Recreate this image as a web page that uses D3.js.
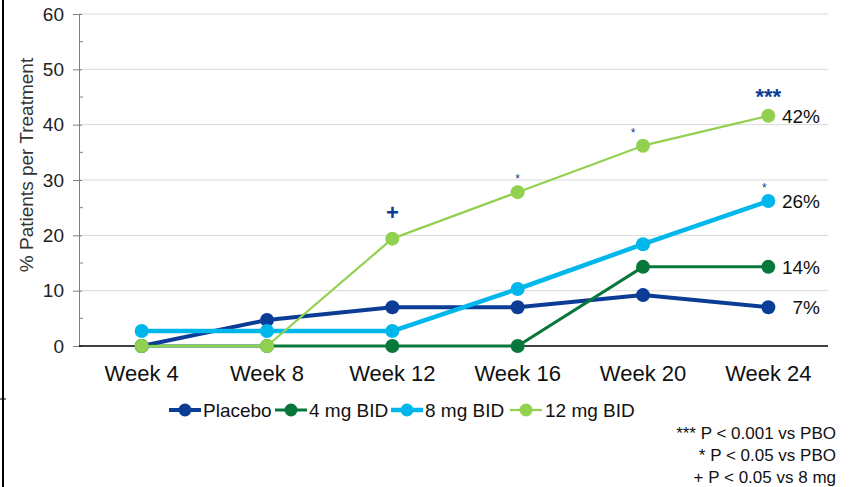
<!DOCTYPE html>
<html><head><meta charset="utf-8">
<script src="https://cdn.jsdelivr.net/npm/d3@7"></script>
<style>body{margin:0;background:#fff}svg{display:block;font-family:"Liberation Sans",Arial,sans-serif}</style>
</head><body><svg id="c" width="850" height="487"></svg>
<script>
const weeks = ["Week 4","Week 8","Week 12","Week 16","Week 20","Week 24"];
const seriesNames = ["Placebo","4 mg BID","8 mg BID","12 mg BID"];
const placebo = [0, 4.7, 7.0, 7.0, 9.2, 7.0];
const mg4 = [0, 0, 0, 0, 14.3, 14.3];
const mg8 = [2.7, 2.7, 2.7, 10.3, 18.4, 26.2];
const mg12 = [0, 0, 19.4, 27.8, 36.2, 41.6];
const endLabels = ["7%","14%","26%","42%"];
const yTicks = [0,10,20,30,40,50,60];
const footnotes = ["*** P < 0.001 vs PBO","* P < 0.05 vs PBO","+ P < 0.05 vs 8 mg"];
// significance marks: [series index, week index, symbol]
const sigMarks = [[3,2,"+"],[3,3,"*"],[3,4,"*"],[2,5,"*"],[3,5,"***"]];

const colors = ["#0B3C96","#08783A","#00B7EC","#92D050"];
const widths = [4,3,4.5,2.2];
const radii = [7,7,7,7];
const allSeries = [placebo, mg4, mg8, mg12];

const svg = d3.select("#c");
const x = d3.scaleBand().domain(weeks).range([79,831]);
const y = d3.scaleLinear().domain([0,60]).range([346,14]);
const cx = w => x(w) + x.bandwidth()/2;

// left border line
svg.append("line").attr("x1",3).attr("x2",3).attr("y1",0).attr("y2",487).attr("stroke","#000").attr("stroke-width",2);
svg.append("line").attr("x1",0).attr("x2",6).attr("y1",399).attr("y2",399).attr("stroke","#000").attr("stroke-width",1);

// gridlines
svg.append("g").selectAll("line").data(yTicks.filter(d=>d>0)).join("line")
  .attr("x1",79).attr("x2",828).attr("y1",d=>y(d)).attr("y2",d=>y(d))
  .attr("stroke","#d9d9d9").attr("stroke-width",1);

// y axis
const yAxis = d3.axisLeft(y).tickValues(yTicks).tickSize(6).tickPadding(9);
const gy = svg.append("g").attr("transform","translate(79,0)").call(yAxis);
gy.select(".domain").attr("stroke","#808080");
gy.selectAll(".tick line").attr("stroke","#808080").attr("x2",-6).attr("x1",3);
gy.selectAll("text").attr("font-size",19).attr("fill","#222");
// minor ticks
svg.append("g").selectAll("line").data(d3.range(5,60,10)).join("line")
  .attr("x1",79).attr("x2",83).attr("y1",d=>y(d)).attr("y2",d=>y(d)).attr("stroke","#808080");

// x axis baseline
svg.append("line").attr("x1",79).attr("x2",828).attr("y1",y(0)).attr("y2",y(0)).attr("stroke","#000").attr("stroke-width",1.5);
const xAxis = d3.axisBottom(x).tickSize(0).tickPadding(19);
const gx = svg.append("g").attr("transform",`translate(0,${y(0)})`).call(xAxis);
gx.select(".domain").remove();
gx.selectAll("text").attr("font-size",22).attr("fill","#111");

// y label
svg.append("text").attr("transform","translate(33,165) rotate(-90)").attr("text-anchor","middle")
  .attr("font-size",19).attr("fill","#333").text("% Patients per Treatment");

// lines & markers
const line = d3.line().x((d,i)=>cx(weeks[i])).y(d=>y(d));
const order = [0,2,1,3];
order.forEach(s=>{
  svg.append("path").datum(allSeries[s]).attr("d",line).attr("fill","none")
    .attr("stroke",colors[s]).attr("stroke-width",widths[s]).attr("stroke-linejoin","round");
  svg.append("g").selectAll("circle").data(allSeries[s]).join("circle")
    .attr("cx",(d,i)=>cx(weeks[i])).attr("cy",d=>y(d)).attr("r",radii[s]).attr("fill",colors[s]);
});

// end labels
allSeries.forEach((s,i)=>{
  svg.append("text").attr("x",820).attr("y",y(s[5])+7).attr("text-anchor","end")
    .attr("font-size",19).attr("fill","#111").text(endLabels[i]);
});

// significance marks
sigMarks.forEach(([s,w,sym])=>{
  const v = allSeries[s][w];
  let t = svg.append("text").attr("x",cx(weeks[w])).attr("text-anchor","middle").attr("fill","#0B3C96").attr("font-weight","bold");
  if(sym==="+"){ t.attr("y",y(v)-19).attr("font-size",22).text(sym); }
  else if(sym==="***"){ t.attr("y",y(v)-12).attr("font-size",22).text(sym); }
  else { t.attr("y",y(v)-9).attr("font-size",12).attr("font-weight","normal").text(sym); }
  if(sym==="*" && w===4) t.attr("x",cx(weeks[w])-10);
  if(sym==="*" && w===5) t.attr("x",cx(weeks[w])-4);
});

// legend
const legX = [169,275,391,510];
const leg = svg.append("g");
seriesNames.forEach((n,i)=>{
  const g = leg.append("g").attr("transform",`translate(${legX[i]},410)`);
  g.append("line").attr("x1",0).attr("x2",32).attr("stroke",colors[i]).attr("stroke-width",widths[i]);
  g.append("circle").attr("cx",16).attr("r",6.5).attr("fill",colors[i]);
  g.append("text").attr("x",i===3?35:34).attr("y",7).attr("font-size",19).attr("fill","#111").text(n);
});

// footnotes
svg.append("g").selectAll("text").data(footnotes).join("text")
  .attr("x",836).attr("y",(d,i)=>439+i*22).attr("text-anchor","end")
  .attr("font-size",17).attr("fill","#111").text(d=>d);
</script></body></html>
